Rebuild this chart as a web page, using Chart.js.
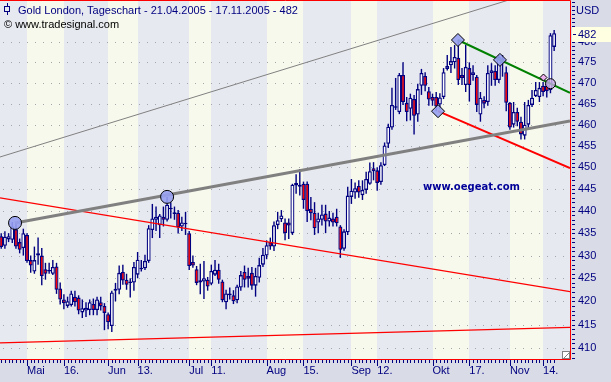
<!DOCTYPE html>
<html>
<head>
<meta charset="utf-8">
<script src="https://cdn.jsdelivr.net/npm/chart.js@4.4.0/dist/chart.umd.min.js"></script>
<style>
  html, body { margin: 0; padding: 0; background: #D9DCE6; }
  canvas { display: block; }
</style>
</head>
<body>
<canvas id="chart" width="611" height="382"></canvas>
<script>
/* Gold London daily candles, 21.04.2005 - 17.11.2005 */

const dates = [
  '21.04','22.04','25.04','26.04','27.04','28.04','29.04',
  '02.05','03.05','04.05','05.05','06.05','09.05','10.05','11.05','12.05','13.05','16.05','17.05','18.05','19.05','20.05','23.05','24.05','25.05','26.05','27.05','30.05','31.05',
  '01.06','02.06','03.06','06.06','07.06','08.06','09.06','10.06','13.06','14.06','15.06','16.06','17.06','20.06','21.06','22.06','23.06','24.06','27.06','28.06','29.06','30.06',
  '01.07','04.07','05.07','06.07','07.07','08.07','11.07','12.07','13.07','14.07','15.07','18.07','19.07','20.07','21.07','22.07','25.07','26.07','27.07','28.07','29.07',
  '01.08','02.08','03.08','04.08','05.08','08.08','09.08','10.08','11.08','12.08','15.08','16.08','17.08','18.08','19.08','22.08','23.08','24.08','25.08','26.08','29.08','30.08','31.08',
  '01.09','02.09','05.09','06.09','07.09','08.09','09.09','12.09','13.09','14.09','15.09','16.09','19.09','20.09','21.09','22.09','23.09','26.09','27.09','28.09','29.09','30.09',
  '03.10','04.10','05.10','06.10','07.10','10.10','11.10','12.10','13.10','14.10','17.10','18.10','19.10','20.10','21.10','24.10','25.10','26.10','27.10','28.10','31.10',
  '01.11','02.11','03.11','04.11','07.11','08.11','09.11','10.11','11.11','14.11','15.11','16.11','17.11'
];

const open = [
  434.3,432.2,433.6,433.5,435.9,433.0,431.7,434.6,429.0,426.5,
  430.0,430.0,427.0,426.5,426.0,427.6,422.8,420.4,419.0,419.2,
  421.0,420.8,417.6,418.0,418.1,419.4,418.1,419.8,419.0,417.2,
  414.7,422.3,422.5,426.4,424.7,424.0,424.1,425.8,427.0,427.2,
  428.8,435.7,438.0,436.8,438.7,438.0,440.7,439.3,439.6,436.5,
  437.2,435.0,428.6,427.0,424.1,424.3,424.7,423.8,425.8,426.9,
  424.3,419.8,421.3,421.3,420.2,423.0,426.4,425.5,426.2,423.4,
  425.1,428.0,430.0,433.0,432.0,436.8,438.1,437.4,437.4,435.0,
  445.8,446.0,446.2,446.2,440.5,439.6,437.4,438.0,439.4,437.6,
  438.3,438.7,436.5,431.5,435.2,443.2,444.2,445.7,443.6,444.8,
  446.2,449.8,449.3,446.6,450.5,455.5,459.3,464.0,463.0,471.9,
  465.2,463.8,466.1,462.4,469.3,471.7,468.0,466.6,466.6,464.8,
  466.6,473.4,474.3,475.0,476.1,471.9,469.5,473.6,471.9,471.5,
  462.4,465.9,465.4,472.4,472.9,470.7,476.0,472.6,465.2,460.0,
  463.0,460.7,457.4,460.0,464.7,466.8,466.6,469.3,469.3,468.3,
  478.8
];
const high = [
  435.0,435.4,435.0,437.5,437.2,433.8,436.0,435.0,430.0,432.0,
  434.0,431.7,428.4,428.4,429.0,428.4,424.1,421.5,421.0,422.3,
  422.3,421.3,420.4,419.8,420.4,420.6,421.0,421.0,419.6,417.6,
  422.3,424.0,427.8,428.0,426.0,425.0,428.6,430.8,429.0,430.2,
  436.8,441.6,441.0,439.3,441.0,443.2,442.0,441.0,440.2,438.7,
  439.8,435.5,430.0,427.7,428.2,428.8,425.3,428.0,429.0,428.2,
  424.7,422.5,423.0,422.4,423.6,426.6,427.8,427.3,427.5,427.3,
  429.5,431.7,433.4,434.0,437.6,439.8,440.2,438.3,438.3,446.2,
  448.4,449.6,446.7,446.7,443.2,442.0,439.6,441.4,441.4,440.0,
  439.6,440.5,436.8,435.9,445.5,447.3,446.5,447.0,447.0,449.0,
  451.1,451.2,450.0,451.2,455.8,460.2,468.8,471.2,472.4,475.0,
  466.6,467.4,467.1,469.8,473.4,472.6,469.0,467.4,467.8,467.5,
  473.6,476.8,478.8,479.3,480.5,473.6,479.3,475.0,474.3,471.9,
  467.8,466.8,474.3,474.8,474.3,476.8,476.8,474.0,465.4,465.4,
  464.0,461.9,465.4,465.9,468.3,470.2,470.2,470.2,470.5,482.2,
  483.0
];
const low = [
  431.5,431.5,433.0,432.8,431.5,430.5,430.0,428.4,426.2,426.0,
  428.0,423.5,424.7,426.0,425.7,421.6,419.3,418.3,418.6,418.9,
  418.9,417.2,416.4,416.6,417.0,417.0,417.0,418.0,413.8,414.0,
  413.4,420.0,421.5,423.6,422.5,420.8,422.3,425.0,426.5,426.8,
  428.4,433.9,435.5,433.9,436.5,437.6,438.3,438.0,434.9,435.5,
  434.6,426.8,427.3,423.5,421.5,420.5,422.3,423.5,425.5,423.8,
  419.8,418.3,420.4,419.4,419.6,422.3,423.0,423.0,422.5,421.0,
  424.1,427.5,429.2,431.3,431.0,435.9,437.5,433.4,433.7,434.6,
  443.9,443.5,440.5,437.5,437.9,434.6,435.0,436.7,435.0,436.5,
  436.5,436.5,429.5,431.1,434.6,441.6,442.8,443.0,442.5,443.9,
  446.0,447.0,444.6,446.0,450.3,454.5,458.8,463.5,462.5,464.7,
  460.8,461.0,457.7,460.7,467.1,468.0,464.5,464.5,463.2,463.8,
  466.1,473.0,472.4,473.5,469.5,469.5,467.8,465.5,470.5,463.0,
  460.7,463.9,464.5,469.3,469.3,470.0,471.5,463.2,458.8,459.3,
  459.6,456.5,456.5,459.0,464.2,466.6,465.4,466.8,466.5,467.5,
  477.8
];
const close = [
  431.9,434.2,434.3,436.5,432.0,431.3,435.0,428.8,427.8,429.0,
  430.5,425.5,426.0,426.8,427.5,422.5,420.4,419.6,420.0,421.7,
  419.8,418.0,418.5,418.6,419.8,418.1,420.4,418.9,417.5,415.5,
  421.9,422.7,426.2,424.5,423.6,424.2,427.5,429.1,427.2,428.8,
  436.1,438.3,438.7,439.0,438.0,441.4,440.4,439.7,436.3,437.4,
  437.0,427.7,427.8,424.0,424.6,425.0,423.2,426.6,426.9,424.7,
  420.2,421.7,421.7,420.0,423.2,425.7,424.7,424.9,423.4,425.5,
  427.9,430.2,432.3,432.0,436.8,437.9,439.0,435.0,436.7,446.0,
  446.4,445.5,442.5,440.0,439.5,436.1,438.3,439.2,437.6,438.5,
  437.4,437.2,431.3,435.4,443.5,444.6,445.2,444.2,444.8,447.3,
  449.1,449.1,446.4,450.5,455.1,459.5,464.7,464.2,471.9,465.4,
  463.0,466.4,462.1,468.5,472.4,469.3,466.0,465.7,464.3,466.5,
  472.6,474.1,475.3,476.3,470.7,471.2,473.9,469.5,472.6,464.7,
  466.4,465.0,472.4,473.1,470.7,476.4,474.8,465.2,459.3,463.0,
  460.7,457.7,460.0,464.7,466.4,468.3,468.8,467.8,468.0,481.7,
  482.2
];

// x-axis labels: month start + mid-month mark (in German)
const tickDates  = ['02.05','16.05','01.06','13.06','01.07','11.07','01.08','15.08','01.09','12.09','03.10','17.10','01.11','14.11'];
const tickLabels = ['Mai','16.','Jun','13.','Jul','11.','Aug','15.','Sep','12.','Okt','17.','Nov','14.'];
const priceTicks = [410,415,420,425,430,435,440,445,450,455,460,465,470,475,480];
const lastPrice = 482;

// drawn trend lines, as [bar index, price] pairs
const channelTop  = [[-0.33, 452.4], [154.3, 495.3]];
const supportLine = [[3.75, 437.3], [154.3, 460.9]];
const redUpper    = [[-0.33, 443.0], [154.3, 422.1]];
const redLower    = [[-0.33, 411.1], [154.3, 414.4]];
const redFalling  = [[118.5, 463.2], [154.3, 449.8]];
const greenLine   = [[123.9, 480.5], [154.3, 467.6]];
const roundMarks  = [[3.75, 437.3], [45, 443.2]];
const diamondMarks = [[118.5, 463.2], [123.9, 480.5], [135.3, 475.6]];
const violetMarks = [[149, 469.8]];
const pinkMarks   = [[147.1, 471.3]];

const NAVY = '#000080';
const OUTER = '#D9DCE6', BAND = '#E7E9F0', CREAM = '#F7F9EC';
const X_MIN = -0.33, X_MAX = 154.3;

const tickIdx = tickDates.map(d => dates.indexOf(d));
const pts = arr => arr.map(p => ({ x: p[0], y: p[1] }));

const backdrop = {
  id: 'backdrop',
  beforeDraw(chart) {
    const { ctx, chartArea: a, scales: { x, y } } = chart;
    ctx.save();
    ctx.fillStyle = OUTER;
    ctx.fillRect(0, 0, chart.width, chart.height);
    ctx.fillStyle = BAND;
    ctx.fillRect(a.left, a.top, a.right - a.left, a.bottom - a.top);
    // first half of each month is the pale cream band
    ctx.fillStyle = CREAM;
    for (let k = 0; k + 1 < tickIdx.length; k += 2) {
      const x0 = Math.round(x.getPixelForValue(tickIdx[k]));
      const x1 = Math.round(x.getPixelForValue(tickIdx[k + 1]));
      ctx.fillRect(x0, a.top, x1 - x0, a.bottom - a.top);
    }
    // dotted price grid
    ctx.strokeStyle = '#A4A6AE';
    ctx.lineWidth = 1;
    ctx.setLineDash([1, 7]);
    ctx.lineDashOffset = -3;
    priceTicks.forEach(v => {
      const py = Math.round(y.getPixelForValue(v)) + 0.5;
      ctx.beginPath(); ctx.moveTo(a.left, py); ctx.lineTo(a.right, py); ctx.stroke();
    });
    ctx.restore();
  }
};

const overlay = {
  id: 'overlay',
  afterDraw(chart) {
    const { ctx, chartArea: a, scales: { x, y } } = chart;
    ctx.save();
    // red frame
    ctx.strokeStyle = '#FF0000'; ctx.lineWidth = 1;
    ctx.beginPath();
    ctx.moveTo(a.left, a.top + 0.5); ctx.lineTo(a.right + 0.5, a.top + 0.5);
    ctx.lineTo(a.right + 0.5, a.bottom + 0.5); ctx.lineTo(a.left, a.bottom + 0.5);
    ctx.stroke();

    // price axis tick marks (every dollar)
    ctx.strokeStyle = NAVY;
    for (let v = 408; v <= 490; v++) {
      const py = Math.round(y.getPixelForValue(v)) + 0.5;
      ctx.beginPath(); ctx.moveTo(a.right + 2, py); ctx.lineTo(a.right + 5, py); ctx.stroke();
    }
    // time axis tick marks (every bar, longer at labels)
    dates.forEach((d, i) => {
      const px = Math.round(x.getPixelForValue(i)) + 0.5;
      const len = tickDates.includes(d) ? 6 : 3;
      ctx.beginPath(); ctx.moveTo(px, a.bottom + 1); ctx.lineTo(px, a.bottom + 1 + len); ctx.stroke();
    });

    // last price box
    const ly = Math.round(y.getPixelForValue(lastPrice));
    ctx.fillStyle = '#FFFFE1';
    ctx.fillRect(a.right + 2, ly - 7, chart.width - a.right - 2, 15);
    ctx.beginPath(); ctx.moveTo(a.right + 3, ly + 0.5); ctx.lineTo(a.right + 6, ly + 0.5); ctx.stroke();
    ctx.fillStyle = NAVY;
    ctx.font = '11px "Liberation Sans", Arial, sans-serif';
    ctx.textBaseline = 'middle';
    ctx.fillText(String(lastPrice), a.right + 8, ly + 1);

    // unit label
    ctx.fillText('USD', a.right + 6, 11);

    // title with small candle icon
    ctx.strokeStyle = NAVY;
    ctx.strokeRect(4.5, 6.5, 5, 5);
    ctx.beginPath(); ctx.moveTo(7.5, 3); ctx.lineTo(7.5, 6); ctx.moveTo(7.5, 12); ctx.lineTo(7.5, 15); ctx.stroke();
    ctx.textBaseline = 'alphabetic';
    ctx.font = '11px "Liberation Sans", Arial, sans-serif';
    ctx.fillStyle = NAVY;
    ctx.fillText('Gold London, Tageschart - 21.04.2005 - 17.11.2005 - 482', 18, 14);
    ctx.fillStyle = '#000000';
    ctx.fillText('\u00A9 www.tradesignal.com', 4, 28);

    // watermark
    ctx.fillStyle = '#000099';
    ctx.font = 'bold 10px "DejaVu Sans", sans-serif';
    ctx.fillText('www.oegeat.com', 423, 190);

    // little resize glyph in the corner
    ctx.fillStyle = '#FFFFFF';
    ctx.fillRect(a.right - 7, a.bottom - 7, 6, 6);
    ctx.strokeStyle = '#808080';
    ctx.strokeRect(a.right - 7.5, a.bottom - 7.5, 7, 7);
    ctx.beginPath(); ctx.moveTo(a.right - 7, a.bottom); ctx.lineTo(a.right, a.bottom - 7); ctx.stroke();
    ctx.restore();
  }
};

const lineSet = (data, color, width) => ({
  type: 'line', data: pts(data), borderColor: color, borderWidth: width,
  pointRadius: 0, fill: false, order: 1
});
const markSet = (data, style, r, fill) => ({
  type: 'line', data: pts(data), showLine: false, pointStyle: style, pointRadius: r,
  pointBackgroundColor: fill, pointBorderColor: '#000000', pointBorderWidth: 1, order: 0
});

new Chart(document.getElementById('chart'), {
  type: 'bar',
  data: {
    datasets: [
      markSet(roundMarks, 'circle', 6.5, 'rgba(150,160,240,0.9)'),
      markSet(diamondMarks, 'rectRot', 6.5, 'rgba(150,160,240,0.9)'),
      markSet(violetMarks, 'circle', 5, 'rgba(200,170,230,0.8)'),
      markSet(pinkMarks, 'rectRot', 3.5, 'rgba(240,170,240,0.9)'),
      lineSet(channelTop, '#808080', 1),
      lineSet(supportLine, '#808080', 3),
      lineSet(redUpper, '#FF0000', 1.2),
      lineSet(redLower, '#FF0000', 1.2),
      lineSet(redFalling, '#FF0000', 2),
      lineSet(greenLine, '#008000', 2),
      {
        label: 'body',
        data: dates.map((d, i) => ({ x: i, y: [open[i], close[i]] })),
        backgroundColor: dates.map((d, i) => close[i] >= open[i] ? '#FFFFFF' : '#FF0000'),
        borderColor: NAVY, borderWidth: 1.3, borderSkipped: false,
        barThickness: 4, minBarLength: 1.5, grouped: false, inflateAmount: 0, order: 2
      },
      {
        label: 'wick',
        data: dates.map((d, i) => ({ x: i, y: [low[i], high[i]] })),
        backgroundColor: NAVY, borderWidth: 0,
        barThickness: 1.4, grouped: false, inflateAmount: 0, order: 3
      }
    ]
  },
  options: {
    responsive: false,
    animation: false,
    events: [],
    layout: { padding: 0, autoPadding: false },
    plugins: { legend: { display: false }, tooltip: { enabled: false } },
    scales: {
      x: {
        type: 'linear', min: X_MIN, max: X_MAX, offset: false,
        grid: { display: false, drawTicks: false }, border: { display: false },
        afterBuildTicks: s => { s.ticks = tickIdx.map(v => ({ value: v })); },
        afterFit: s => { s.height = 23; s.paddingLeft = 0; s.paddingRight = 0; },
        ticks: {
          autoSkip: false, maxRotation: 0, minRotation: 0, align: 'start', padding: 5,
          color: NAVY, font: { family: '"Liberation Sans", Arial, sans-serif', size: 11 },
          callback: v => tickLabels[tickIdx.indexOf(v)]
        }
      },
      y: {
        type: 'logarithmic', position: 'right', min: 407.7, max: 490.5,
        grid: { display: false, drawTicks: false }, border: { display: false },
        afterBuildTicks: s => { s.ticks = priceTicks.map(v => ({ value: v })); },
        afterFit: s => { s.width = 41; s.paddingTop = 0; s.paddingBottom = 0; },
        ticks: {
          padding: 8, color: NAVY,
          font: { family: '"Liberation Sans", Arial, sans-serif', size: 11 },
          callback: v => String(v)
        }
      }
    }
  },
  plugins: [backdrop, overlay]
});
</script>
</body>
</html>
